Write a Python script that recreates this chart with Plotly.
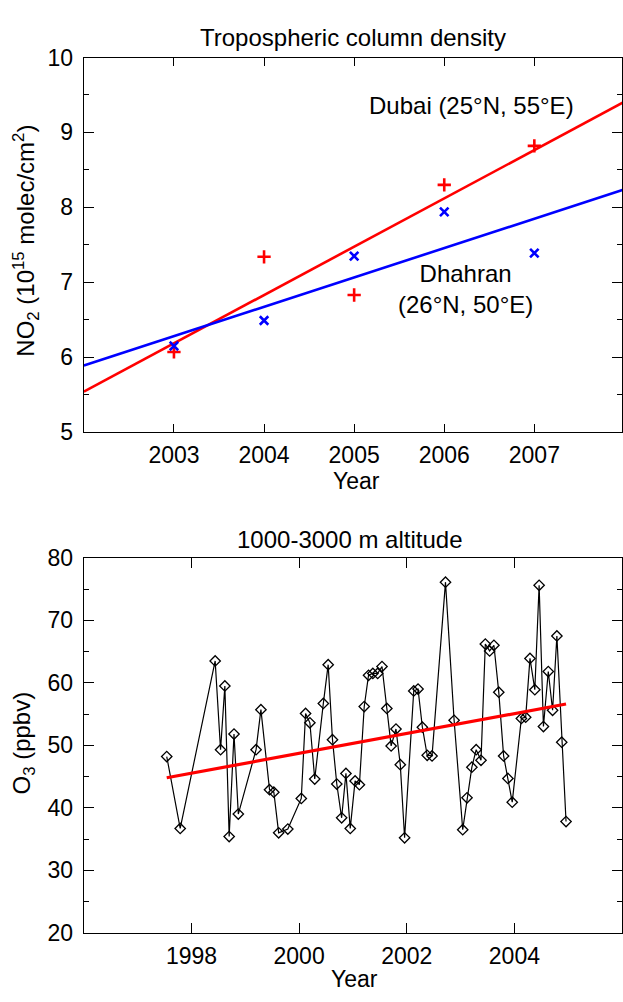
import plotly.graph_objects as go

# ---------------- Top panel: NO2 tropospheric column density ----------------
no2_years = [2003, 2004, 2005, 2006, 2007]
dubai_no2 = [6.07, 7.34, 6.83, 8.30, 8.82]
dhahran_no2 = [6.15, 6.49, 7.35, 7.94, 7.39]
trend_years_top = [2002.0, 2008.0]
dubai_trend = [5.54, 9.41]
dhahran_trend = [5.89, 8.24]
top_xticks = [2003, 2004, 2005, 2006, 2007]
top_yticks = [5, 6, 7, 8, 9, 10]

# ---------------- Bottom panel: O3 1000-3000 m ----------------
o3_time = [1997.54, 1997.79, 1998.44, 1998.54, 1998.62, 1998.70, 1998.79, 1998.87,
           1999.20, 1999.29, 1999.45, 1999.53, 1999.62, 1999.79, 2000.04, 2000.12,
           2000.20, 2000.29, 2000.45, 2000.54, 2000.62, 2000.70, 2000.79, 2000.87,
           2000.95, 2001.04, 2001.12, 2001.21, 2001.29, 2001.37, 2001.46, 2001.54,
           2001.63, 2001.71, 2001.80, 2001.88, 2001.96, 2002.13, 2002.21, 2002.29,
           2002.38, 2002.47, 2002.72, 2002.88, 2003.04, 2003.12, 2003.21, 2003.29,
           2003.38, 2003.46, 2003.54, 2003.62, 2003.71, 2003.80, 2003.88, 2003.96,
           2004.13, 2004.21, 2004.29, 2004.38, 2004.46, 2004.54, 2004.63, 2004.71,
           2004.79, 2004.88, 2004.96]
o3_ppbv = [48.2, 36.7, 63.5, 49.3, 59.5, 35.4, 51.8, 39.0,
           49.3, 55.7, 42.9, 42.5, 36.0, 36.6, 41.5, 55.1,
           53.6, 44.6, 56.7, 62.9, 50.9, 43.8, 38.4, 45.5,
           36.7, 44.3, 43.7, 56.2, 61.2, 61.5, 61.5, 62.6,
           55.9, 49.9, 52.6, 46.9, 35.2, 58.7, 59.0, 52.9,
           48.4, 48.3, 76.1, 54.0, 36.5, 41.6, 46.5, 49.3,
           47.6, 66.2, 65.1, 66.0, 58.5, 48.3, 44.7, 40.9,
           54.3, 54.5, 63.9, 58.9, 75.6, 53.0, 61.8, 55.6,
           67.5, 50.5, 37.8]
o3_trend_time = [1997.54, 2004.96]
o3_trend = [44.8, 56.6]
bot_xticks = [1998, 2000, 2002, 2004]
bot_yticks = [20, 30, 40, 50, 60, 70, 80]

FONT = "Liberation Sans, Arial, Helvetica, sans-serif"
W, H = 623, 1002

fig = go.Figure()

# top traces
fig.add_trace(go.Scatter(x=trend_years_top, y=dubai_trend, mode="lines",
                         line=dict(color="#ff0000", width=2.6), xaxis="x", yaxis="y",
                         showlegend=False, hoverinfo="skip"))
fig.add_trace(go.Scatter(x=trend_years_top, y=dhahran_trend, mode="lines",
                         line=dict(color="#0000ff", width=2.6), xaxis="x", yaxis="y",
                         showlegend=False, hoverinfo="skip"))
fig.add_trace(go.Scatter(x=no2_years, y=dubai_no2, mode="markers",
                         marker=dict(symbol="cross-thin", size=9.5,
                                     line=dict(color="#ff0000", width=2.6)),
                         xaxis="x", yaxis="y", showlegend=False))
fig.add_trace(go.Scatter(x=no2_years, y=dhahran_no2, mode="markers",
                         marker=dict(symbol="x-thin", size=8.5,
                                     line=dict(color="#0000ff", width=2.6)),
                         xaxis="x", yaxis="y", showlegend=False))

# bottom traces
fig.add_trace(go.Scatter(x=o3_time, y=o3_ppbv, mode="lines+markers",
                         line=dict(color="black", width=1.2),
                         marker=dict(symbol="diamond-open", size=8, color="black",
                                     line=dict(color="black", width=1.3)),
                         xaxis="x2", yaxis="y2", showlegend=False))
fig.add_trace(go.Scatter(x=o3_trend_time, y=o3_trend, mode="lines",
                         line=dict(color="#ff0000", width=3.2),
                         xaxis="x2", yaxis="y2", showlegend=False, hoverinfo="skip"))

x_left = 84.0 / W
top_dom = [1 - 430.3 / H, 1 - 45.7 / H]
bot_dom = [1 - 944.3 / H, 1 - 559.3 / H]

axis_common = dict(showline=True, linecolor="black", linewidth=1.3, mirror="ticks",
                   ticks="inside", tickcolor="black", tickwidth=1.3,
                   showgrid=False, zeroline=False,
                   tickfont=dict(family=FONT, size=23, color="black"))

fig.update_layout(
    width=W, height=H,
    margin=dict(l=0, r=0, t=0, b=0, pad=0),
    paper_bgcolor="white", plot_bgcolor="white",
    font=dict(family=FONT, size=23, color="black"),
    xaxis=dict(domain=[x_left, 1], range=[2002, 2007.973], tickvals=top_xticks,
               ticklen=8, anchor="y", ticklabelstandoff=2, **axis_common),
    yaxis=dict(domain=top_dom, range=[5, 10], tickvals=top_yticks, ticklen=10,
               minor=dict(dtick=0.5, ticklen=5, tickcolor="black", tickwidth=1.2, ticks="inside"),
               anchor="x", ticklabelstandoff=5, **axis_common),
    xaxis2=dict(domain=[x_left, 1], range=[1996, 2006.0], tickvals=bot_xticks,
                ticklen=10, anchor="y2", ticklabelstandoff=2, **axis_common),
    yaxis2=dict(domain=bot_dom, range=[20, 80], tickvals=bot_yticks, ticklen=10,
                minor=dict(dtick=5, ticklen=5, tickcolor="black", tickwidth=1.2, ticks="inside"),
                anchor="x2", ticklabelstandoff=5, **axis_common),
)

ann = []
ann.append(dict(text="Tropospheric column density", xref="paper", yref="paper",
                x=353.5 / W, y=1 - 25 / H, xanchor="center", yanchor="middle",
                showarrow=False, font=dict(family=FONT, size=24, color="black")))
ann.append(dict(text="1000-3000 m altitude", xref="paper", yref="paper",
                x=350.5 / W, y=1 - 540.7 / H, xanchor="center", yanchor="middle",
                showarrow=False, font=dict(family=FONT, size=24, color="black")))
ann.append(dict(text="Year", xref="paper", yref="paper",
                x=357.5 / W, y=1 - 480 / H, xanchor="center", yanchor="middle",
                showarrow=False, font=dict(family=FONT, size=23, color="black")))
ann.append(dict(text="Year", xref="paper", yref="paper",
                x=355 / W, y=1 - 992 / H, xanchor="center", yanchor="middle",
                showarrow=False, font=dict(family=FONT, size=23, color="black")))
ann.append(dict(text="NO<sub>2</sub> (10<sup>15</sup> molec/cm<sup>2</sup>)",
                xref="paper", yref="paper", x=25.8 / W, y=1 - 234 / H,
                xanchor="center", yanchor="middle", textangle=-90,
                showarrow=False, font=dict(family=FONT, size=24, color="black")))
ann.append(dict(text="O<sub>3</sub> (ppbv)",
                xref="paper", yref="paper", x=24 / W, y=1 - 749 / H,
                xanchor="center", yanchor="middle", textangle=-90,
                showarrow=False, font=dict(family=FONT, size=24, color="black")))
ann.append(dict(text="Dubai (25°N, 55°E)", xref="x", yref="y",
                x=2006.30, y=9.36, xanchor="center", yanchor="middle",
                showarrow=False, font=dict(family=FONT, size=24, color="black")))
ann.append(dict(text="Dhahran<br>(26°N, 50°E)", xref="x", yref="y",
                x=2006.24, y=6.915, xanchor="center", yanchor="middle",
                showarrow=False, font=dict(family=FONT, size=24, color="black")))
fig.update_layout(annotations=ann)

fig.write_html("out.html", config={"displayModeBar": False},
               post_script="document.body.style.margin='0px';document.body.style.overflow='hidden';")
